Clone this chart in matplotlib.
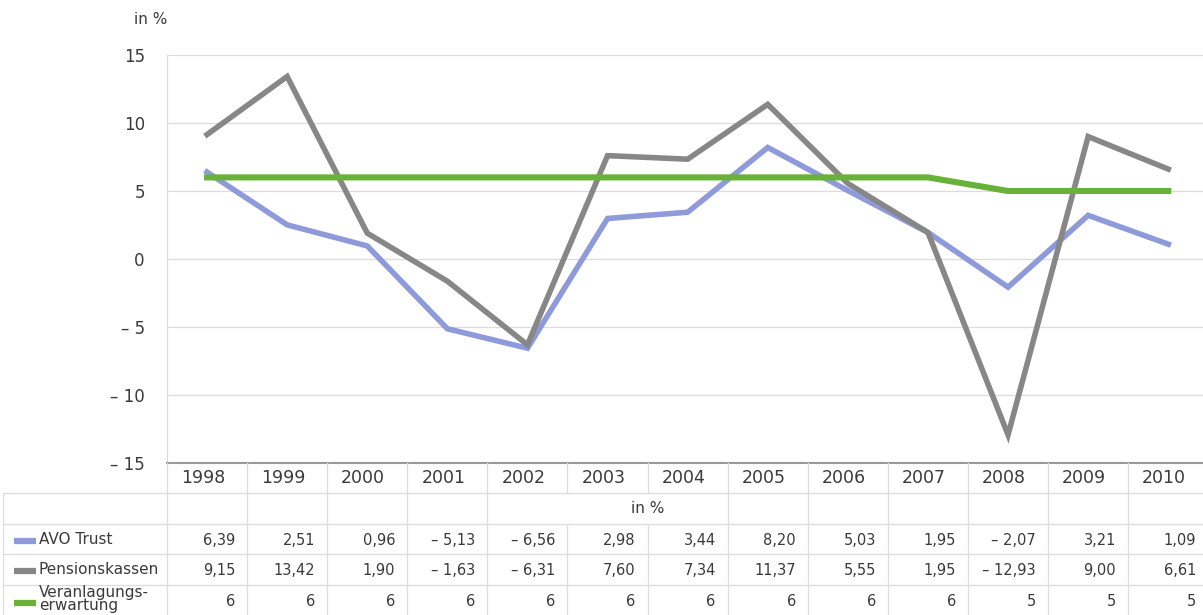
import matplotlib.pyplot as plt

years = ['1998', '1999', '2000', '2001', '2002', '2003', '2004',
         '2005', '2006', '2007', '2008', '2009', '2010']
avo_trust = [6.39, 2.51, 0.96, -5.13, -6.56, 2.98, 3.44, 8.20, 5.03, 1.95, -2.07, 3.21, 1.09]
pensionskassen = [9.15, 13.42, 1.90, -1.63, -6.31, 7.60, 7.34, 11.37, 5.55, 1.95, -12.93, 9.00, 6.61]
erwartung = [6, 6, 6, 6, 6, 6, 6, 6, 6, 6, 5, 5, 5]
yticks = [-15, -10, -5, 0, 5, 10, 15]

namen = ['AVO Trust', 'Pensionskassen', 'Veranlagungs-\nerwartung']
farben = ['#8e9ad9', '#878787', '#69b23a']
reihen = [avo_trust, pensionskassen, erwartung]

textfarbe = '#3a3a3a'
gitter = '#e0dada'


def fmt(v):
    if isinstance(v, int):
        s = str(abs(v))
    else:
        s = ('%.2f' % abs(v)).replace('.', ',')
    return ('\u2013 ' + s) if v < 0 else s


fig = plt.figure(figsize=(12.03, 6.15), dpi=100)
W, H = 1203, 615
cell = 80.1

# Diagramm
ax = fig.add_axes([167 / W, 1 - 463 / H, 13 * cell / W, 408 / H])
x = list(range(len(years)))
for werte, farbe, lw in zip(reihen, farben, [4.0, 4.0, 4.4]):
    ax.plot(x, werte, color=farbe, lw=lw, solid_joinstyle='miter', zorder=3)

ax.set_xlim(-0.5, 12.5)
ax.set_ylim(-15, 15)
ax.set_yticks(yticks)
ax.set_yticklabels([('\u2013 %d' % abs(t)) if t < 0 else str(t) for t in yticks],
                   fontsize=12, color=textfarbe)
ax.tick_params(axis='y', length=0, pad=16)
ax.set_xticks([])
for t in yticks[1:]:
    ax.axhline(t, color=gitter, lw=0.9, zorder=1)
for s in ['top', 'right', 'bottom']:
    ax.spines[s].set_visible(False)
ax.spines['left'].set_color(gitter)
ax.spines['left'].set_linewidth(0.9)
fig.text(167 / W, 1 - 20 / H, 'in %', ha='right', va='center', fontsize=11, color=textfarbe)

# Tabelle
x0 = -0.5 - 164 / cell
tab = fig.add_axes([3 / W, 0, (12.5 - x0) * cell / W, 152 / H])
tab.set_xlim(x0, 12.5)
tab.set_ylim(5, 0)
tab.axis('off')

tab.plot([-0.5, 12.5], [0, 0], color='#9a9a9a', lw=1.5, clip_on=False)
for r in range(1, 5):
    tab.plot([x0, 12.5], [r, r], color=gitter, lw=0.9)
tab.plot([x0, x0], [1, 5], color=gitter, lw=0.9)
for k in range(14):
    xv = k - 0.5
    if xv in (4.5, 5.5):
        tab.plot([xv, xv], [0, 1], color=gitter, lw=0.9)
        tab.plot([xv, xv], [2, 5], color=gitter, lw=0.9)
    else:
        tab.plot([xv, xv], [0, 5], color=gitter, lw=0.9, clip_on=False)

for i, j in enumerate(years):
    tab.text(i - 0.05, 0.5, j, ha='center', va='center', fontsize=12.5, color=textfarbe)
tab.text(5.5, 1.5, 'in %', ha='center', va='center', fontsize=11, color=textfarbe)

sw0 = x0 + 11 / cell
sw1 = x0 + 33 / cell
for r, (name, farbe, werte) in enumerate(zip(namen, farben, reihen)):
    yc = 2.5 + r
    if r == 2:
        tab.plot([sw0, sw1], [yc + 0.12, yc + 0.12], color=farbe, lw=4.5, solid_capstyle='butt')
        tab.text(sw1 + 3 / cell, yc - 0.02, name, ha='left', va='center', fontsize=11,
                 color=textfarbe, linespacing=0.8)
    else:
        tab.plot([sw0, sw1], [yc + 0.05, yc + 0.05], color=farbe, lw=4.5, solid_capstyle='butt')
        tab.text(sw1 + 3 / cell, yc, name, ha='left', va='center', fontsize=11, color=textfarbe)
    for i, v in enumerate(werte):
        tab.text(i + 0.5 - 12 / cell, yc + 0.05, fmt(v), ha='right', va='center',
                 fontsize=10.5, color=textfarbe)

fig.savefig('out.png', dpi=100, facecolor='white')
